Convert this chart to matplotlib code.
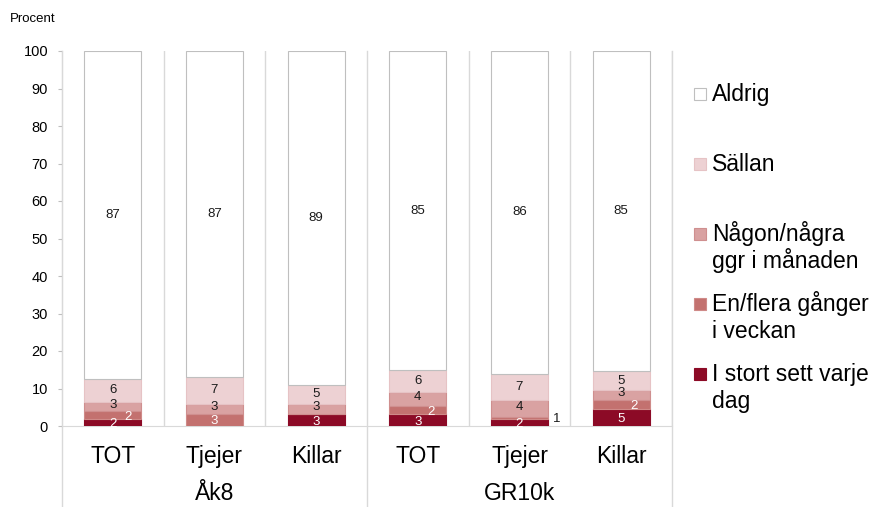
import numpy as np
import matplotlib
matplotlib.use("Agg")
import matplotlib.pyplot as plt
from matplotlib.patches import Rectangle

plt.rcParams['font.family'] = ['Liberation Sans', 'DejaVu Sans']

# data
categories = ['TOT', 'Tjejer', 'Killar', 'TOT', 'Tjejer', 'Killar']
groups = ['Åk8', 'GR10k']
daily = [1.8, 0.0, 3.1, 3.1, 1.9, 4.6]
weekly = [2.1, 3.2, 0.0, 2.2, 0.6, 2.4]
monthly = [2.6, 2.8, 2.9, 3.8, 4.4, 2.6]
rarely = [6.1, 7.0, 5.0, 5.8, 7.1, 5.0]
never = [87.4, 87.0, 89.0, 85.1, 86.0, 85.4]

series_names = ['I stort sett varje\ndag', 'En/flera gånger\ni veckan',
                'Någon/några\nggr i månaden', 'Sällan', 'Aldrig']
series = [daily, weekly, monthly, rarely, never]
colors = ['#8c0a26', '#c3716f', '#d9a2a2', '#edd1d3', '#ffffff']
edges = ['#8c0a26', '#cf8a88', '#cf8f8f', '#e6c3c5', '#bfbfbf']
label_colors = ['white', 'white', '#1a1a1a', '#1a1a1a', '#1a1a1a']

# label offsets (x in category units) for the weekly series
weekly_dx = [0.15, 0.0, 0.0, 0.13, 0.37, 0.13]
weekly_col = ['white', 'white', 'white', 'white', '#1a1a1a', 'white']

W, H = 874, 507
fig = plt.figure(figsize=(W / 100, H / 100), dpi=100)
ax = fig.add_axes([62 / W, 81 / H, 610 / W, 375 / H])

x = np.arange(len(categories))
bottom = np.zeros(len(categories))
for i, vals in enumerate(series):
    vals = np.array(vals)
    ax.bar(x, vals, width=0.56, bottom=bottom, color=colors[i],
           edgecolor=edges[i], linewidth=0.8, zorder=3)
    for j, v in enumerate(vals):
        if v < 0.5:
            continue
        yc = bottom[j] + v / 2
        xc = x[j]
        col = label_colors[i]
        if i == 1:
            xc += weekly_dx[j]
            col = weekly_col[j]
        # nudge the bottom labels apart where they crowd
        if i < 2:
            yc -= 0.4
        elif i == 2:
            yc += 0.4
        ax.text(xc, yc, f"{v:.0f}", ha='center', va='center',
                fontsize=9.5, color=col, zorder=4)
    bottom += vals

ax.set_xlim(-0.5, len(categories) - 0.5)
ax.set_ylim(0, 100)
ax.set_yticks(np.arange(0, 101, 10))
ax.tick_params(axis='y', length=3, color='#bfbfbf', labelsize=10.5, pad=7)
ax.set_xticks([])
for s in ['top', 'right']:
    ax.spines[s].set_visible(False)
ax.spines['left'].set_color('#d9d9d9')
ax.spines['bottom'].set_color('#d9d9d9')

# separators
for sx in [0.5, 1.5, 3.5, 4.5, 5.5]:
    ax.axvline(sx, color='#d9d9d9', lw=1, zorder=1)
tr = ax.get_xaxis_transform()
for sx in [-0.5, 2.5, 5.5]:
    ax.plot([sx, sx], [-0.22, 1], color='#d9d9d9', lw=1, transform=tr,
            clip_on=False, zorder=1)

# category and group labels
for j, c in enumerate(categories):
    ax.text(x[j], -0.099, c, transform=tr, ha='center', va='baseline',
            fontsize=16.5)
for g, gname in enumerate(groups):
    ax.text(g * 3 + 1, -0.198, gname, transform=tr, ha='center',
            va='baseline', fontsize=16.5)

fig.text(10 / W, 1 - 22 / H, 'Procent', fontsize=9.5, va='baseline')

# legend
leg_y = [374, 304, 234, 164, 94]
for i in range(len(series)):
    yc = leg_y[i]
    fig.patches.append(Rectangle((694 / W, 1 - (yc + 6) / H), 12 / W, 12 / H,
                                 facecolor=colors[i], edgecolor=edges[i],
                                 lw=0.8, transform=fig.transFigure))
    for k, line in enumerate(series_names[i].split('\n')):
        fig.text(712 / W, 1 - (yc + 7 + 27 * k) / H, line, fontsize=16.5,
                 va='baseline')

fig.savefig('out.png', dpi=100)
